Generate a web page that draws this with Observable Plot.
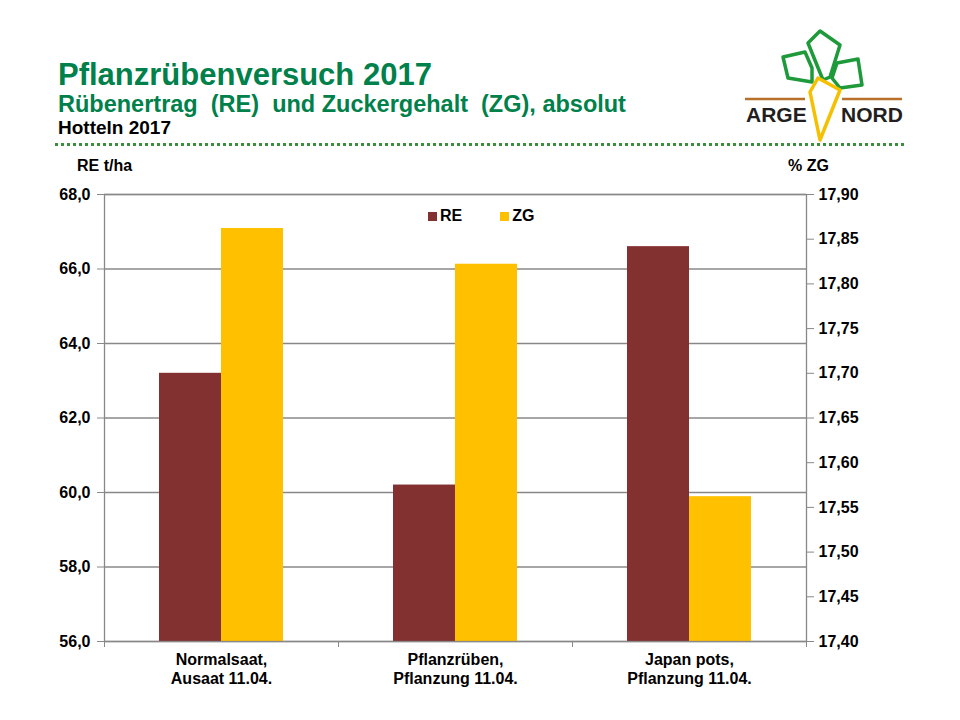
<!DOCTYPE html>
<html>
<head>
<meta charset="utf-8">
<script src="https://cdn.jsdelivr.net/npm/d3@7"></script>
<script src="https://cdn.jsdelivr.net/npm/@observablehq/plot@0.6"></script>
<style>
  html, body { margin: 0; padding: 0; background: #fff; }
  body { width: 960px; height: 720px; position: relative; overflow: hidden;
         font-family: "Liberation Sans", Arial, sans-serif; }
  .abs { position: absolute; white-space: pre; }
  #title { left: 58px; top: 57px; font-size: 31px; font-weight: bold; color: #00804A; }
  #subtitle { left: 58px; top: 91px; font-size: 23.5px; font-weight: bold; color: #00804A; }
  #place { left: 58px; top: 117px; font-size: 19px; font-weight: bold; color: #000; }
  #dots { left: 55px; top: 143px; width: 850px; height: 3px;
          background: repeating-linear-gradient(90deg, #3A8F3A 0 3px, transparent 3px 6px); }
  .axlab { top: 157px; font-size: 16px; font-weight: bold; color: #000; }
  #legend { left: 428px; top: 207px; font-size: 16px; font-weight: bold; color: #000; display: flex; align-items: center; }
  #legend span.sw { display: inline-block; width: 9px; height: 9px; margin-right: 3px; }
  #legend span.item { display: inline-flex; align-items: center; margin-right: 38px; }
  #chart { position: absolute; left: 0; top: 150px; }
  #logo { position: absolute; left: 740px; top: 20px; }
</style>
</head>
<body>
<div id="title" class="abs">Pflanzrübenversuch 2017</div>
<div id="subtitle" class="abs">Rübenertrag  (RE)  und Zuckergehalt  (ZG), absolut</div>
<div id="place" class="abs">Hotteln 2017</div>
<div id="dots" class="abs"></div>
<div class="abs axlab" style="left:77px">RE t/ha</div>
<div class="abs axlab" style="left:788px">% ZG</div>
<svg id="logo" width="180" height="130" viewBox="740 20 180 130">
  <g fill="none" stroke="#1E9A3A" stroke-width="3.5" stroke-linejoin="round">
    <polygon points="783,57 805,52 812,68 812,82 788,78"/>
    <polygon points="820,31 840,45 830,77 823,80 808,43"/>
    <polygon points="837,63 858,59 862,85 840,88 832,78"/>
  </g>
  <g stroke="#B8702A" stroke-width="2.5">
    <line x1="745" y1="99" x2="805" y2="99"/>
    <line x1="842" y1="99" x2="902" y2="99"/>
  </g>
  <polygon points="818,78 810,92 820,140 840,90" fill="none" stroke="#F5C000" stroke-width="3.5" stroke-linejoin="round"/>
  <text x="746" y="122" font-family="Liberation Sans, Arial, sans-serif" font-weight="bold" font-size="21" fill="#231F20">ARGE</text>
  <text x="841" y="122" font-family="Liberation Sans, Arial, sans-serif" font-weight="bold" font-size="21" fill="#231F20">NORD</text>
</svg>
<div id="legend" class="abs">
  <span class="item"><span class="sw" style="background:#833030"></span>RE</span>
  <span class="item"><span class="sw" style="background:#FFC000"></span>ZG</span>
</div>
<div id="chart"></div>
<script>
// ---- data ----
const categories = ["Normalsaat,\nAusaat 11.04.", "Pflanzrüben,\nPflanzung 11.04.", "Japan pots,\nPflanzung 11.04."];
const reValues = [63.2, 60.2, 66.6];          // Rübenertrag t/ha
const zgValues = [17.862, 17.822, 17.562];    // Zuckergehalt %
const reTicks = [56, 58, 60, 62, 64, 66, 68];
const zgTicks = [17.40, 17.45, 17.50, 17.55, 17.60, 17.65, 17.70, 17.75, 17.80, 17.85, 17.90];
const reColor = "#833030";
const zgColor = "#FFC000";

// map ZG (right axis) onto RE (left axis) scale
const reMin = 56, reMax = 68, zgMin = 17.40, zgMax = 17.90;
const zgToRe = z => reMin + (z - zgMin) / (zgMax - zgMin) * (reMax - reMin);
const reToZg = r => zgMin + (r - reMin) / (reMax - reMin) * (zgMax - zgMin);

const reData = categories.map((c, i) => ({cat: c, v: reValues[i]}));
const zgData = categories.map((c, i) => ({cat: c, v: zgToRe(zgValues[i])}));
const fmtDe = (v, d) => v.toFixed(d).replace(".", ",");

const plot = Plot.plot({
  width: 960,
  height: 570,
  marginTop: 44,
  marginBottom: 79,
  marginLeft: 104,
  marginRight: 154,
  x: {domain: categories, padding: 0, axis: null},
  y: {domain: [reMin, reMax], axis: null},
  style: {fontFamily: '"Liberation Sans", Arial, sans-serif', fontSize: "16px", fontWeight: "bold", color: "#000", background: "transparent"},
  marks: [
    Plot.gridY(reTicks, {stroke: "#888", strokeOpacity: 1, strokeWidth: 1.3}),
    Plot.barY(reData, {x: "cat", y1: reMin, y2: "v", fill: reColor, insetLeft: 55, insetRight: 117}),
    Plot.barY(zgData, {x: "cat", y1: reMin, y2: "v", fill: zgColor, insetLeft: 117, insetRight: 55}),
    Plot.frame({stroke: "#888", strokeWidth: 1.3}),
    Plot.axisY(reTicks, {anchor: "left", label: null, tickSize: 7, tickPadding: 7, stroke: "#888", fill: "#000",
      tickFormat: d => fmtDe(d, 1)}),
    Plot.axisY(zgTicks.map(zgToRe), {anchor: "right", label: null, tickSize: 7, tickPadding: 5, stroke: "#888", fill: "#000",
      tickFormat: d => fmtDe(reToZg(d), 2)}),
    Plot.axisX({anchor: "bottom", label: null, tickSize: 0, tickPadding: 10, lineHeight: 1.2, fill: "#000"}),
    Plot.axisX({anchor: "bottom", label: null, tickSize: 6, stroke: "#888", tickFormat: () => "", dx: -117}),
    Plot.axisX([categories[categories.length - 1]], {anchor: "bottom", label: null, tickSize: 6, stroke: "#888", tickFormat: () => "", dx: 117})
  ]
});
document.getElementById("chart").appendChild(plot);
</script>
</body>
</html>
